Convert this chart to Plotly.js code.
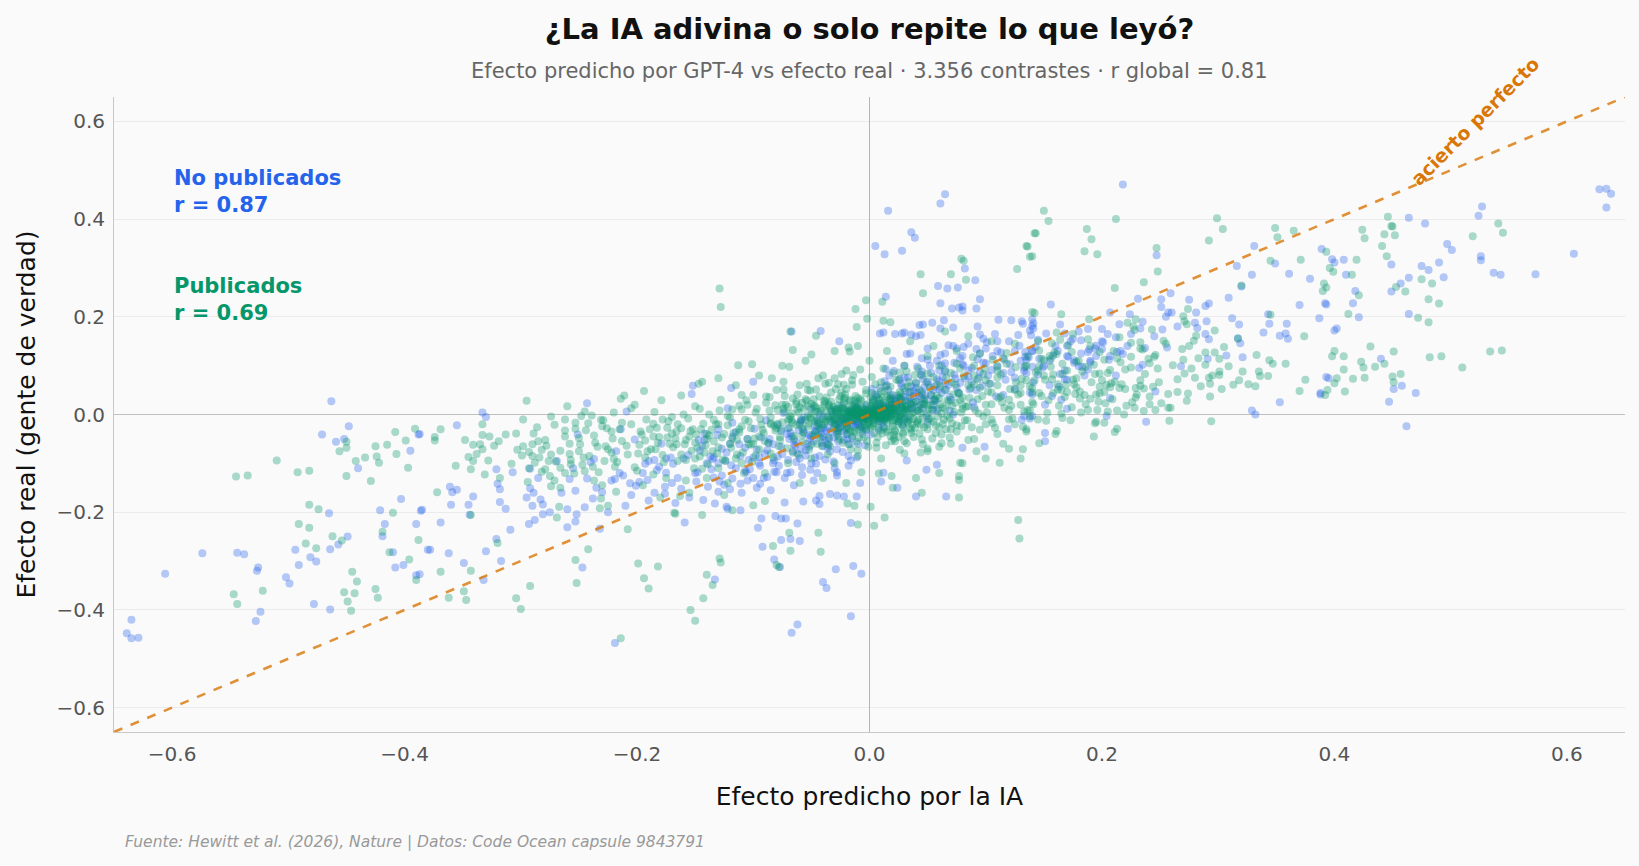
<!DOCTYPE html>
<html>
<head>
<meta charset="utf-8">
<script src="https://cdn.plot.ly/plotly-3.0.1.min.js"></script>
<style>html,body{margin:0;padding:0;background:#fafafa;}#chart{width:1639px;height:866px;}</style>
</head>
<body>
<div id="chart"></div>
<script>
// Axis ticks
const tickValues = [-0.6, -0.4, -0.2, 0.0, 0.2, 0.4, 0.6];
const perfectLine = [-0.65, 0.65];

// Publicados (green), [predicho, real] — outer points
const publicadosOuter = [
[-0.545,-0.127],[-0.535,-0.125],[-0.51,-0.094],[-0.492,-0.118],[-0.482,-0.115],[-0.482,-0.185],[-0.474,-0.194],[-0.491,-0.224],[-0.482,-0.232],[-0.485,-0.264],[-0.476,-0.274],[-0.462,-0.249],[-0.454,-0.258],[-0.45,-0.056],[-0.45,-0.068],[-0.456,-0.075],[-0.442,-0.095],[-0.434,-0.088],[-0.424,-0.086],[-0.422,-0.099],[-0.45,-0.126],[-0.429,-0.136],[-0.425,-0.065],[-0.415,-0.062],[-0.408,-0.036],[-0.399,-0.053],[-0.407,-0.081],[-0.397,-0.109],[-0.391,-0.029],[-0.374,-0.046],[-0.41,-0.201],[-0.419,-0.24],[-0.413,-0.282],[-0.396,-0.297],[-0.388,-0.257],[-0.39,-0.339],[-0.445,-0.322],[-0.441,-0.342],[-0.452,-0.364],[-0.449,-0.383],[-0.443,-0.366],[-0.446,-0.402],[-0.425,-0.357],[-0.423,-0.375],[-0.547,-0.368],[-0.544,-0.388],[-0.522,-0.361],
[-0.129,0.258],[-0.128,0.22],[-0.113,0.101],[-0.13,0.074],[-0.144,0.067],[-0.147,0.063],[-0.194,0.048],[-0.202,0.02],[-0.211,0.039],[-0.214,0.032],[-0.179,0.029],[-0.162,0.039],[-0.15,0.017],[-0.295,0.028],[-0.26,0.017],[-0.262,-0.01],[-0.253,-0.017],[-0.248,-0.003],[-0.244,-0.032],[-0.239,-0.002],[-0.231,-0.011],[-0.23,-0.024],[-0.22,0.004],[-0.222,-0.035],[-0.369,-0.03],[-0.374,-0.053],[-0.372,-0.159],[-0.369,-0.322],[-0.362,-0.375],[-0.349,-0.362],[-0.347,-0.38],[-0.343,-0.32],[-0.356,-0.105],[-0.345,-0.087],[-0.341,-0.095],[-0.341,-0.062],[-0.335,-0.061],[-0.333,-0.071],[-0.333,-0.042],[-0.327,-0.045],[-0.319,-0.055],[-0.331,-0.123],[-0.343,-0.206],[-0.32,-0.263],[-0.304,-0.039],[-0.299,-0.084],[-0.293,-0.077],[-0.29,-0.061],[-0.282,-0.072],[-0.288,-0.099],[-0.279,-0.112],[-0.274,-0.082],[-0.266,-0.109],[-0.274,-0.147],[-0.271,-0.135],[-0.269,-0.211],[-0.267,-0.189],[-0.292,-0.351],[-0.304,-0.376],[-0.3,-0.398],[-0.253,-0.298],[-0.252,-0.345],[-0.242,-0.276],[-0.257,-0.093],[-0.247,-0.103],[-0.245,-0.116],[-0.237,-0.135],[-0.231,-0.172],[-0.232,-0.192],[-0.225,-0.187],[-0.228,-0.095],[-0.22,-0.091],[-0.219,-0.107],[-0.218,-0.158],[-0.214,-0.458],[-0.208,-0.235],[-0.199,-0.305],[-0.194,-0.335],[-0.19,-0.356],[-0.182,-0.311],[-0.208,-0.082],[-0.199,-0.08],[-0.213,-0.054],[-0.193,-0.053],[-0.188,-0.071],[-0.186,-0.045],[-0.183,-0.027],[-0.174,-0.027],[-0.17,-0.039],[-0.167,-0.049],[-0.159,-0.061],[-0.152,-0.03],[-0.148,-0.068],[-0.144,-0.111],[-0.186,-0.123],[-0.18,-0.17],[-0.168,-0.201],[-0.163,-0.167],[-0.158,-0.135],[-0.154,-0.4],[-0.15,-0.422],[-0.143,-0.376],[-0.14,-0.328],[-0.135,-0.349],[-0.128,-0.303],[-0.167,-0.203],[-0.144,-0.206],
[-0.285,-0.055],[-0.276,-0.095],[-0.262,-0.12],[-0.258,-0.06],[-0.25,-0.075],[-0.236,-0.058],[-0.227,-0.065],[-0.215,-0.03],[-0.205,-0.02],[-0.197,-0.035],[-0.192,-0.01],[-0.185,0.005],[-0.178,-0.01],[-0.172,-0.06],[-0.165,-0.02],[-0.16,0.0],[-0.155,-0.045],[-0.15,-0.09],[-0.145,-0.03],[-0.14,-0.05],[-0.138,0.0],[-0.135,-0.075],[-0.132,-0.02],[-0.13,-0.11],[-0.128,0.03],[-0.125,-0.04],[-0.122,-0.14],[-0.12,-0.06],[-0.118,0.01],[-0.115,-0.09],[-0.112,-0.03],[-0.11,0.04],[-0.108,-0.12],[-0.105,-0.05],[-0.2,-0.115],[-0.195,-0.145],[-0.175,-0.13],[-0.165,-0.095],[-0.155,-0.16],[-0.14,-0.13],[-0.125,-0.165],
[-0.068,0.17],[-0.066,0.132],[-0.069,0.098],[-0.084,0.074],[-0.074,0.067],[-0.101,0.103],[-0.046,0.161],[-0.05,0.123],[-0.018,0.137],[-0.017,0.129],[0.011,0.231],[-0.012,0.216],[-0.003,0.234],[-0.002,0.196],[-0.011,0.179],[0.012,0.192],[0.018,0.189],[0.079,0.319],[0.081,0.315],[0.083,0.276],[0.07,0.287],[0.044,0.287],[0.046,0.248],[0.142,0.371],[0.135,0.345],[0.138,0.323],[0.127,0.298],[0.142,0.208],
[-0.129,-0.295],[-0.083,-0.269],[-0.08,-0.308],[-0.078,-0.312],[-0.069,-0.242],[-0.068,-0.279],[-0.044,-0.242],[-0.042,-0.281],[-0.01,-0.225],[0.004,-0.228],[0.013,-0.211],[0.001,-0.189],[-0.019,-0.182],[-0.013,-0.187],[-0.118,-0.196],[-0.1,-0.186],[-0.09,-0.177],[0.019,-0.126],[0.008,-0.121],[-0.007,-0.118],[0.045,-0.16],[0.077,-0.17],[0.077,-0.126],[0.077,-0.134],[0.078,-0.099],[0.112,-0.099],[0.128,-0.216],[0.129,-0.254],[0.05,-0.07],[0.06,-0.066],[0.062,-0.059],
[0.299,0.402],[0.304,0.38],[0.292,0.356],[0.32,0.264],[0.349,0.382],[0.351,0.363],[0.365,0.376],[0.345,0.315],[0.371,0.317],[0.393,0.333],[0.399,0.292],[0.393,0.26],[0.39,0.253],[0.345,0.204],[0.374,0.16],[0.358,0.104],[0.333,0.122],[0.344,0.111],[0.347,0.104],[0.335,0.088],[0.336,0.079],[0.343,0.079],[0.318,0.07],[0.326,0.062],[0.332,0.058],[0.303,0.052],[0.294,-0.014],[0.37,0.048],[0.375,0.071],[0.394,0.05],[0.402,0.074],[0.4,0.13],[0.274,0.216],[0.27,0.201],[0.273,0.185],[0.271,0.191],[0.279,0.151],[0.275,0.14],[0.283,0.115],[0.27,0.112],[0.289,0.102],[0.297,0.127],[0.301,0.114],[0.292,0.075],[0.295,0.08],[0.301,0.088],[0.293,0.063],[0.28,0.075],[0.271,0.084],[0.274,0.043],[0.265,0.046],[0.255,0.145],[0.246,0.122],[0.243,0.174],[0.24,0.114],[0.241,0.105],[0.248,0.094],[0.236,0.271],[0.248,0.293],[0.247,0.341],[0.212,0.4],[0.196,0.328],[0.191,0.359],[0.187,0.38],[0.185,0.334],[0.211,0.259],[0.15,0.417],[0.154,0.396],[0.143,0.371],[0.136,0.344],[0.14,0.324],[0.14,0.21],[0.165,0.205],[0.189,0.195],[0.222,0.188],[0.229,0.195],[0.227,0.18],[0.228,0.173],[0.215,0.158],[0.225,0.147],[0.216,0.107],[0.22,0.092],[0.225,0.118],[0.233,0.135],[0.235,0.133],[0.233,0.07],[0.233,0.059],[0.236,0.053],[0.244,0.057],[0.241,0.037],[0.229,0.035],[0.226,0.025],[0.23,0.041],[0.246,0.009],[0.251,0.023],[0.257,0.014],[0.259,0.014],[0.258,-0.013],[0.236,0.007],[0.228,0.014],
[0.22,0.052],[0.215,0.054],[0.211,0.067],[0.207,0.091],[0.208,0.064],[0.207,0.056],[0.204,0.061],[0.198,0.084],[0.198,0.057],[0.202,0.046],[0.195,0.041],[0.197,0.026],[0.203,0.023],[0.205,0.006],[0.213,0.008],[0.219,0.0],[0.213,-0.029],[0.211,-0.036],[0.202,-0.017],[0.194,-0.018],[0.193,-0.045],[0.188,0.009],[0.181,0.033],[0.177,0.042],[0.178,0.056],[0.175,0.071],[0.169,0.061],[0.174,0.015],[0.166,-0.007],[0.165,0.002],[0.161,-0.034],[0.162,0.051],[0.157,0.072],[0.156,0.114],[0.159,0.127],[0.157,0.146],[0.161,0.168],[0.164,0.153],[0.148,0.114],[0.146,0.099],[0.14,0.054],[0.138,-0.004],[0.136,0.009],[0.132,-0.025],[0.135,-0.035],[0.146,-0.059],[0.132,-0.071],[0.152,-0.013],
[0.446,0.405],[0.449,0.386],[0.45,0.385],[0.424,0.378],[0.426,0.361],[0.443,0.369],[0.452,0.367],[0.441,0.345],[0.445,0.324],[0.419,0.317],[0.396,0.3],[0.391,0.268],[0.415,0.286],[0.421,0.244],[0.412,0.206],[0.453,0.261],[0.461,0.252],[0.475,0.277],[0.484,0.268],[0.481,0.236],[0.49,0.227],[0.472,0.198],[0.481,0.189],[0.519,0.365],[0.541,0.391],[0.545,0.372],[0.534,0.129],[0.544,0.131],[0.51,0.096],[0.492,0.119],[0.482,0.117],[0.431,0.139],[0.451,0.129],[0.443,0.104],[0.435,0.098],[0.423,0.108],[0.425,0.096],[0.408,0.119],[0.398,0.119],[0.408,0.092],[0.416,0.073],[0.426,0.075],[0.4,0.064],[0.409,0.047],[0.392,0.04],[0.45,0.078],[0.451,0.066],[0.457,0.083]
];

// Publicados (green) — inner cloud
const publicadosInner = [
[0.1,0.02],[0.105,0.045],[0.11,0.06],[0.12,0.03],[0.125,0.05],[0.13,0.02],[0.135,0.07],[0.14,0.045],[0.1,-0.02],[0.12,-0.01],[0.135,-0.03],[0.09,0.08],[0.11,0.1],[0.145,0.09],[0.08,0.02],[0.075,-0.035],[0.092,-0.075],[0.105,-0.01],
[0.13,0.06],[0.125,-0.02],[0.14,0.025],[0.15,0.08],[0.11,0.09],[0.1,0.07],[0.09,0.1],[0.085,0.06],[0.07,0.085],[0.06,0.1],[0.05,0.12],[0.03,0.1],[0.02,0.085],[0.0,0.11],[-0.02,0.09],[-0.04,0.08],[-0.06,0.06],[-0.08,0.05],[-0.1,0.04],[-0.11,0.01],[-0.13,-0.02],[-0.14,-0.04],[-0.1,-0.06],[-0.085,-0.08],[-0.07,-0.1],[-0.05,-0.09],[-0.03,-0.1],[-0.01,-0.085],[0.01,-0.09],[0.03,-0.08],[0.05,-0.075],[0.07,-0.06],[0.09,-0.05],[0.11,-0.04],[0.12,-0.07],[0.1,-0.09],[0.08,-0.1],[0.06,-0.12],[0.04,-0.13],[0.02,-0.15],[-0.02,-0.14],[-0.04,-0.13],[-0.06,-0.14],[-0.09,-0.12],[-0.11,-0.1],[-0.115,0.06],[-0.095,0.08],[-0.075,0.1],[-0.055,0.11],[-0.03,0.13],[-0.01,0.14],[0.015,0.13],[0.035,0.15],[0.055,0.14],[0.075,0.13],[0.095,0.125],[0.115,0.115],[0.135,0.1],[0.155,0.12],[0.165,0.05],[0.145,-0.01],[0.16,-0.04],[0.17,0.09],[0.18,0.11],[0.185,0.04],[0.19,0.14],[0.175,0.165],[0.2,0.07],[0.21,0.13],[0.195,-0.015],[0.105,0.15],[0.085,0.16],[0.065,0.17],[0.125,0.145],[0.145,0.15],[0.115,-0.06],[0.13,-0.09],[-0.095,-0.045],[-0.085,-0.02],[-0.075,0.02],[-0.065,-0.05],[-0.045,-0.06],[-0.035,0.065],[-0.015,0.07],[0.025,0.07],[0.045,0.08],[0.065,0.05],[0.08,0.035],[0.095,0.055],[-0.105,0.02],
[-0.198,-0.062],[-0.193,-0.088],[-0.189,-0.03],[-0.184,-0.071],[-0.181,-0.046],[-0.177,-0.098],[-0.173,-0.014],[-0.169,-0.067],[-0.166,-0.035],[-0.162,-0.082],[-0.158,-0.052],[-0.156,-0.008],[-0.153,-0.074],[-0.151,-0.11],
[-0.149,-0.041],[-0.146,-0.086],[-0.143,-0.019],[-0.141,-0.063],[-0.139,-0.102],[-0.136,-0.031],[-0.134,-0.055],[-0.131,-0.08],[-0.129,0.008],[-0.127,-0.047],[-0.124,-0.095],[-0.122,-0.022],[-0.119,-0.068],[-0.117,-0.038],[-0.114,-0.052],[-0.112,0.018],[-0.109,-0.078],[-0.107,-0.011],[-0.104,-0.061],[-0.102,-0.028],[-0.101,-0.097],
[-0.099,-0.049],[-0.097,0.012],[-0.095,-0.071],[-0.093,-0.021],[-0.091,-0.038],[-0.089,0.024],[-0.087,-0.059],[-0.085,-0.006],[-0.083,-0.088],[-0.081,-0.033],[-0.079,0.009],[-0.077,-0.052],[-0.075,-0.016],[-0.073,0.038],[-0.071,-0.069],[-0.069,-0.027],[-0.067,0.002],[-0.065,-0.044],[-0.063,0.021],[-0.061,-0.083],[-0.059,-0.01],[-0.057,-0.057],[-0.055,0.031],[-0.053,-0.025],[-0.051,0.049],[-0.052,-0.072],
[-0.049,-0.041],[-0.047,0.018],[-0.045,-0.009],[-0.043,0.037],[-0.041,-0.064],[-0.039,-0.02],[-0.037,0.006],[-0.035,-0.047],[-0.033,0.026],[-0.031,-0.011],[-0.029,0.052],[-0.027,-0.037],[-0.025,0.013],[-0.023,-0.058],[-0.021,0.034],[-0.019,-0.025],[-0.017,0.004],[-0.015,0.061],[-0.013,-0.034],[-0.011,0.016],[-0.009,-0.047],[-0.007,0.028],[-0.005,-0.016],[-0.003,0.043],[-0.001,-0.066],[-0.044,0.074],[-0.024,0.083],[-0.008,0.092],[-0.036,-0.082],[-0.016,-0.071],
[0.001,0.036],[0.003,-0.024],[0.005,0.062],[0.007,-0.046],[0.009,0.022],[0.011,-0.011],[0.013,0.047],[0.015,-0.036],[0.017,0.031],[0.019,-0.055],[0.021,0.008],[0.023,0.071],[0.025,-0.019],[0.027,0.042],[0.029,-0.04],[0.031,0.017],[0.033,0.058],[0.035,-0.028],[0.037,0.003],[0.039,0.081],[0.041,-0.014],[0.043,0.05],[0.045,-0.051],[0.047,0.021],[0.049,0.066],[0.012,0.094],[0.032,0.088],[0.006,-0.068],[0.026,-0.072],[0.044,-0.078],
[0.051,-0.009],[0.053,0.04],[0.055,0.077],[0.057,-0.038],[0.059,0.012],[0.061,0.058],[0.063,-0.019],[0.065,0.091],[0.067,0.029],[0.069,-0.047],[0.071,0.066],[0.073,0.005],[0.075,0.104],[0.077,0.043],[0.079,-0.024],[0.081,0.079],[0.083,0.016],[0.085,-0.052],[0.087,0.054],[0.089,0.117],[0.091,0.009],[0.093,0.072],[0.095,-0.031],[0.097,0.038],[0.099,0.094],
[0.101,0.004],[0.103,0.063],[0.106,0.112],[0.108,-0.027],[0.111,0.034],[0.113,0.082],[0.116,0.014],[0.118,0.126],[0.121,0.052],[0.123,-0.008],[0.126,0.097],[0.128,0.041],[0.131,0.073],[0.133,0.006],[0.136,0.119],[0.138,0.058],[0.141,0.021],[0.143,0.086],[0.146,0.131],[0.148,0.038],
[0.151,0.071],[0.153,0.003],[0.156,0.098],[0.158,0.044],[0.161,0.124],[0.163,0.018],[0.166,0.083],[0.168,0.036],[0.171,0.142],[0.173,-0.012],[0.176,0.062],[0.178,0.108],[0.181,0.047],[0.183,0.088],[0.186,0.021],[0.188,0.154],[0.191,0.066],[0.193,0.102],[0.196,0.009],[0.198,0.128],
[-0.298,-0.065],[-0.293,-0.11],[-0.289,-0.039],[-0.284,-0.088],[-0.279,-0.052],[-0.275,-0.126],[-0.271,-0.021],[-0.266,-0.074],[-0.262,-0.045],[-0.257,-0.102],[-0.253,-0.029],[-0.249,-0.061],[-0.245,0.006],[-0.241,-0.085],[-0.237,-0.043],[-0.233,-0.118],[-0.229,-0.012],[-0.225,-0.071],[-0.221,-0.049],[-0.217,-0.097],[-0.213,-0.017],[-0.209,-0.064],[-0.205,0.013],[-0.202,-0.108],
[-0.196,-0.041],[-0.191,-0.075],[-0.186,-0.019],[-0.182,-0.058],[-0.178,-0.083],[-0.174,-0.047],[-0.17,-0.005],[-0.166,-0.061],[-0.162,-0.028],[-0.158,-0.093],[-0.154,-0.034],[-0.15,-0.058],[-0.146,0.012],[-0.142,-0.078],[-0.138,-0.043],[-0.134,-0.011],[-0.13,-0.067],[-0.126,-0.092],[-0.122,-0.003],[-0.118,-0.049],[-0.114,-0.082],[-0.11,-0.024],[-0.106,0.029],[-0.102,-0.062],[-0.098,-0.084],[-0.094,-0.009],[-0.09,-0.054],[-0.086,0.036],[-0.082,-0.023],[-0.078,-0.065],[-0.074,0.051],[-0.07,-0.012],[-0.066,-0.078],[-0.062,0.041],[-0.058,-0.043],[-0.054,0.063],[-0.05,-0.062],[-0.046,0.051],[-0.042,-0.047],[-0.038,0.063],[-0.034,-0.065],[-0.03,0.074],[-0.026,-0.051],[-0.022,0.061],[-0.018,-0.061],[-0.014,0.081],[-0.01,-0.073],[-0.006,0.067],[-0.002,-0.054],[0.002,0.077],[0.006,-0.058],[0.01,0.066],[0.014,-0.063],[0.018,0.057],[0.022,-0.034],[0.026,0.086],[0.03,-0.055],[0.034,0.067],[0.038,-0.046],[0.042,0.094],[0.046,-0.061],[0.05,0.084],[0.054,-0.049],[0.058,0.062],[0.062,-0.041],[0.066,0.076],[0.07,-0.03],[0.074,0.061],[0.078,0.094],[0.082,-0.012],[0.086,0.034],[0.09,0.062],[0.094,0.002],[0.098,0.083],[0.102,0.047],[0.106,-0.018],[0.11,0.076],[0.114,0.025],[0.118,0.104],[0.122,0.018],[0.126,0.066],[0.13,0.044],[0.134,0.099],[0.138,0.008],[0.142,0.07],[0.146,0.044],[0.15,0.111],[0.154,0.029],[0.158,0.082],[0.162,0.062],[0.166,0.104],[0.17,0.046],[0.174,0.128],[0.178,0.074],[0.182,0.004],[0.186,0.097],[0.19,0.032],[0.194,0.083],[0.198,0.043],[0.202,0.112],
[0.205,0.085],[0.209,0.031],[0.213,0.115],[0.217,0.062],[0.221,0.018],[0.225,0.096],[0.229,0.054],[0.233,0.148],[0.237,0.083],[0.241,0.021],[0.245,0.118],[0.249,0.066],[0.253,0.151],[0.257,0.042],[0.261,0.101],[0.265,0.072],[0.269,0.134],[0.273,0.028],[0.277,0.094],[0.281,0.161],[0.285,0.058],[0.289,0.127],[0.293,0.037],[0.297,0.172],[0.301,0.081],[0.305,0.138],[0.309,0.099],[0.313,0.061],[0.317,0.155],[0.321,0.088],
[-0.348,-0.052],[-0.343,-0.112],[-0.338,-0.081],[-0.333,-0.02],[-0.328,-0.094],[-0.323,-0.064],[-0.318,-0.13],[-0.313,-0.041],[-0.308,-0.101],[-0.303,-0.072],[-0.298,-0.01],[-0.294,-0.138],[-0.29,-0.085],[-0.286,-0.026],[-0.282,-0.117],[-0.278,-0.064],[-0.274,-0.004],[-0.27,-0.096],[-0.266,-0.15],[-0.262,-0.033],[-0.258,-0.081],[-0.254,-0.121],[-0.25,-0.048],[-0.246,-0.088],[-0.242,-0.018],[-0.238,-0.107],[-0.234,-0.066],[-0.23,-0.145],[-0.226,-0.028],[-0.222,-0.078]
];

// Publicados (green) — dense core
const publicadosCore = [
[0.002,0.004],[-0.004,-0.003],[0.008,0.011],[-0.011,0.006],[0.013,-0.008],[-0.006,0.015],[0.017,0.002],[-0.015,-0.012],[0.004,-0.018],[0.021,0.014],[-0.019,0.003],[0.009,-0.004],[-0.002,0.021],[0.026,-0.005],[-0.024,-0.006],[0.012,0.024],[-0.009,-0.022],[0.031,0.009],[-0.028,0.012],[0.006,0.007],[-0.001,-0.009],[0.015,-0.016],[-0.013,0.019],[0.019,0.019],[-0.021,-0.017],[0.034,-0.012],[-0.032,-0.001],[0.003,0.029],[0.001,-0.026],[0.023,0.027],[-0.017,0.027],[0.028,-0.021],[-0.035,0.018],[0.038,0.004],[-0.038,-0.015],[0.011,0.035],[-0.006,-0.033],[0.042,0.016],[-0.042,0.007],[0.046,-0.006],[-0.045,-0.024],[0.016,-0.031],[-0.026,0.031],[0.033,0.031],[-0.031,-0.029],[0.051,0.011],[-0.05,0.002],[0.007,0.041],[0.004,-0.038],[0.055,-0.015],[-0.055,-0.011],[0.024,0.039],[-0.012,0.038],[0.039,-0.027],[-0.039,0.028],[0.061,0.021],[-0.06,0.015],[0.062,0.002],[-0.063,-0.021],[0.018,-0.044],[-0.019,-0.04],[0.047,0.033],[-0.048,0.031],[0.069,-0.008],[-0.068,-0.004],[0.01,0.048],[-0.003,0.05],[0.029,-0.037],[0.074,0.024],[-0.074,0.012],[0.058,0.038],[-0.057,-0.036],[0.079,0.004],[-0.079,-0.019],[0.035,0.046],[-0.033,0.045],[0.043,-0.039],[-0.044,-0.043],[0.085,0.017],[-0.086,0.008],[0.066,-0.03],[-0.066,0.033],[0.093,0.031],[-0.092,-0.031],[0.014,0.058],[0.022,-0.055],[-0.011,-0.056],[0.098,-0.004],[-0.098,0.004],[0.076,0.045],[-0.077,-0.046],[0.052,0.055],[-0.053,0.05],[0.105,0.021],[-0.104,-0.014],[0.088,-0.026],[-0.089,0.037],[0.113,0.037],[-0.112,-0.037],[0.04,0.064],[-0.027,0.062],[0.032,-0.059],[-0.036,-0.061],[0.12,0.009],[-0.12,-0.006],[0.005,0.001],[-0.007,0.002],[0.011,-0.002],[0.0,-0.005],[0.014,0.006],[-0.012,-0.004],[0.007,-0.011],[-0.003,0.01],[0.019,-0.001],[-0.016,0.008],[0.003,0.015],[0.024,0.006],[-0.022,0.009],[0.008,-0.015],[-0.008,0.003],[0.016,0.011],[-0.005,-0.014],[0.027,0.015],[-0.027,-0.012],
[0.001,0.0],[-0.002,0.006],[0.006,-0.007],[-0.009,-0.001],[0.012,0.003],[0.004,0.012],[-0.006,-0.01],[0.017,-0.006],[-0.014,0.013],[0.009,0.017],[-0.018,-0.007],[0.022,-0.011],[0.002,-0.021],[-0.01,0.024],[0.029,0.003],[-0.029,0.005],[0.014,0.021],[-0.023,-0.02],[0.033,-0.017],[-0.034,0.012],[0.037,0.019],[-0.04,-0.008],[0.02,-0.024],[-0.016,0.03],[0.044,0.003],[-0.046,0.014],[0.008,0.033],[-0.003,-0.03],[0.028,0.025],[-0.026,-0.028],[0.05,-0.02],[-0.052,-0.019],[0.036,-0.031],[-0.037,0.035],[0.055,0.027],[-0.058,0.024],[0.059,-0.004],[-0.061,0.004],[0.018,0.04],[-0.015,-0.045],[0.065,0.012],[-0.067,-0.012],[0.045,0.042],[-0.047,-0.04],[0.071,-0.018],[-0.072,0.02],[0.025,-0.046],[-0.024,0.045],[0.078,0.03],[-0.08,-0.028],
[0.0,0.008],[0.004,-0.002],[-0.003,0.001],[0.007,0.004],[-0.006,-0.006],[0.01,0.009],[-0.01,0.011],[0.013,-0.012],[-0.012,-0.009],[0.016,0.017],[-0.015,0.003],[0.019,-0.004],[-0.018,0.018],[0.022,0.009],[-0.021,-0.014],[0.025,-0.014],[-0.024,0.001],[0.028,0.02],[-0.027,0.019],[0.031,-0.007],[-0.03,-0.023],[0.034,0.012],[-0.033,0.008],[0.037,-0.021],[-0.036,-0.004],[0.04,0.027],[-0.039,0.021],[0.003,0.024],[-0.001,-0.019],[0.008,-0.027],[-0.008,0.031],[0.018,0.028],[-0.02,-0.031],[0.026,0.035],[-0.025,0.038],[0.011,-0.039],[-0.013,-0.037],[0.036,-0.038],[0.042,-0.011],[-0.043,-0.028],[0.046,0.022],[-0.048,0.017],[0.05,-0.03],[-0.051,-0.006],[0.054,0.009],[-0.054,0.028],[0.057,-0.022],[-0.058,-0.027],[0.06,0.034],[-0.062,0.01],[0.002,0.044],[-0.005,-0.047],[0.021,-0.049],[-0.02,0.052],[0.03,0.054],[0.064,-0.011],[-0.066,-0.017],[0.068,0.026],[-0.07,0.016],[0.072,0.041],
[0.003,0.006],[-0.005,0.002],[0.009,-0.006],[-0.008,-0.008],[0.012,0.013],[-0.011,0.014],[0.015,-0.01],[-0.014,-0.006],[0.018,0.008],[-0.017,0.011],[0.02,-0.018],[-0.019,-0.016],[0.023,0.021],[-0.022,0.024],[0.026,-0.002],[-0.026,0.004],[0.029,-0.026],[-0.029,-0.02],[0.032,0.016],[-0.031,0.016],[0.035,-0.004],[-0.034,-0.01],[0.038,0.024],[-0.038,0.026],[0.041,-0.018],[-0.041,-0.022],[0.044,0.011],[-0.044,0.005],[0.047,-0.026],[-0.047,-0.014],[0.05,0.019],[-0.05,0.022],[0.053,-0.008],[-0.053,-0.003],[0.056,0.032],[-0.056,0.012],[0.06,-0.026],[-0.06,-0.021],[0.063,0.015],[-0.063,0.026],[0.006,0.019],[-0.004,-0.022],[0.01,-0.032],[-0.01,0.034],[0.015,0.037],[-0.016,-0.034],[0.021,-0.041],[-0.021,0.041],[0.026,0.046],[-0.027,-0.045],[0.004,0.002],[-0.001,0.003],[0.007,-0.001],[-0.004,-0.007],[0.011,0.007],[-0.009,0.007],[0.014,-0.004],[-0.013,0.0],[0.017,0.013],[-0.016,-0.002],[0.001,0.013],[0.0,-0.013],[0.005,-0.009],[-0.007,0.012],[0.02,0.003],[-0.02,-0.005],[0.024,-0.008],[-0.023,0.012],[0.03,0.01],[-0.03,-0.008],[0.067,-0.003],[-0.069,-0.009],[0.071,0.018],[-0.073,0.005],[0.075,-0.022],[-0.076,-0.03],[0.08,0.012],[-0.081,0.019],[0.084,-0.012],[-0.085,-0.018],
[0.002,-0.002],[-0.002,-0.001],[0.005,0.005],[-0.005,0.008],[0.008,-0.003],[-0.009,-0.004],[0.011,0.011],[-0.012,0.009],[0.014,-0.007],[-0.014,-0.011],[0.017,0.006],[-0.017,0.005],[0.02,-0.012],[-0.02,-0.009],[0.023,0.016],[-0.023,0.015],[0.026,-0.01],[-0.026,-0.013],[0.029,0.012],[-0.029,0.009],[0.032,-0.015],[-0.032,-0.016],[0.035,0.022],[-0.035,0.021],[0.038,-0.009],[-0.038,-0.011],[0.041,0.008],[-0.041,0.013],[0.044,-0.021],[-0.044,-0.016],[0.047,0.026],[-0.047,0.006],[0.05,0.002],[-0.05,-0.01],[0.053,0.019],[-0.053,0.017],[0.001,0.018],[-0.001,-0.016],[0.004,0.027],[-0.004,-0.027],[0.009,0.03],[-0.009,-0.031],[0.013,-0.027],[-0.013,0.028],[0.018,0.033],[-0.018,-0.029],[0.022,-0.033],[-0.022,0.031],[0.027,0.03],[-0.027,-0.034],[0.006,0.003],[-0.006,0.0],[0.003,-0.006],[-0.003,0.004],[0.01,0.0],[-0.01,-0.002],[0.013,0.004],[-0.011,0.002],[0.016,-0.002],[-0.015,0.006],[0.019,0.01],[-0.019,-0.001],[0.022,0.0],[-0.022,0.004],[0.025,0.008],[-0.025,-0.005],[0.028,-0.005],[-0.028,0.002],[0.031,0.004],[-0.031,-0.004]
];

// No publicados (blue), [predicho, real] — outer points
const noPublicadosOuter = [
[-0.463,0.027],[-0.448,-0.024],[-0.471,-0.041],[-0.459,-0.056],[-0.452,-0.05],[-0.395,-0.074],[-0.388,-0.041],[-0.44,-0.11],[-0.403,-0.173],[-0.421,-0.196],[-0.386,-0.197],[-0.465,-0.202],[-0.417,-0.224],[-0.419,-0.249],[-0.39,-0.224],[-0.449,-0.25],[-0.457,-0.266],[-0.464,-0.276],[-0.494,-0.277],[-0.481,-0.292],[-0.476,-0.301],[-0.491,-0.308],[-0.41,-0.282],[-0.401,-0.308],[-0.408,-0.313],[-0.39,-0.329],[-0.38,-0.277],[-0.574,-0.284],[-0.544,-0.283],[-0.538,-0.286],[-0.526,-0.313],[-0.527,-0.32],[-0.606,-0.326],[-0.502,-0.333],[-0.499,-0.346],[-0.478,-0.388],[-0.464,-0.399],[-0.524,-0.404],[-0.528,-0.423],[-0.635,-0.42],[-0.639,-0.448],[-0.635,-0.458],[-0.629,-0.457],
[-0.333,0.004],[-0.33,-0.005],[-0.355,-0.022],[-0.387,-0.04],[-0.361,-0.148],[-0.359,-0.159],[-0.355,-0.154],[-0.36,-0.185],[-0.385,-0.195],[-0.369,-0.221],[-0.345,-0.185],[-0.341,-0.168],[-0.344,-0.205],[-0.378,-0.277],[-0.362,-0.284],[-0.349,-0.304],[-0.387,-0.327],[-0.332,-0.339],[-0.33,-0.28],[-0.321,-0.112],[-0.32,-0.142],[-0.318,-0.153],[-0.318,-0.179],[-0.313,-0.193],[-0.321,-0.255],[-0.317,-0.3],[-0.309,-0.236],[-0.307,-0.118],[-0.292,-0.111],[-0.292,-0.151],[-0.289,-0.16],[-0.29,-0.187],[-0.293,-0.224],[-0.288,-0.216],[-0.281,-0.184],[-0.283,-0.174],[-0.281,-0.204],[-0.269,-0.095],[-0.26,-0.231],[-0.26,-0.194],[-0.253,-0.219],[-0.252,-0.204],[-0.253,-0.156],[-0.247,-0.313],[-0.258,-0.132],[-0.251,-0.041],[-0.243,0.023],[-0.24,-0.097],[-0.237,-0.091],[-0.243,-0.131],[-0.238,-0.172],[-0.232,-0.234],[-0.23,-0.159],[-0.219,-0.468],[-0.222,-0.135],[-0.219,-0.132],[-0.218,-0.075],[-0.214,-0.03],[-0.209,0.006],[-0.21,-0.187],[-0.212,-0.125],[-0.206,-0.141],[-0.201,-0.146],[-0.202,-0.051],[-0.191,-0.134],[-0.193,-0.101],[-0.19,-0.095],[-0.185,-0.093],[-0.181,-0.107],[-0.179,-0.06],[-0.176,-0.148],[-0.175,-0.119],[-0.171,-0.088],[-0.167,-0.181],[-0.159,-0.221],[-0.152,0.059],[-0.153,0.042],[-0.147,-0.052],[-0.146,-0.074],[-0.142,-0.052],[-0.142,-0.039],[-0.137,-0.086],[-0.134,-0.129],[-0.133,-0.182],[-0.134,-0.088],[-0.125,-0.144],[-0.123,-0.189],[-0.119,0.054],[-0.118,-0.017],[-0.122,0.013],[-0.133,-0.338],
[0.065,0.451],[0.061,0.432],[0.016,0.417],[0.036,0.373],[0.039,0.362],[0.005,0.345],[0.013,0.328],[0.028,0.335],[0.082,0.299],[0.059,0.263],[0.067,0.258],[0.076,0.26],[0.091,0.275],[0.061,0.228],[0.071,0.217],[0.077,0.219],[0.08,0.213],[0.08,0.221],[0.092,0.217],[0.095,0.236],[0.014,0.241],[-0.067,0.17],[-0.026,0.15],[-0.042,0.171],[-0.1,0.067],[0.009,0.166],[0.012,0.168],[0.022,0.165],[0.028,0.166],[0.03,0.168],[0.036,0.164],[0.04,0.16],[0.044,0.163],[0.043,0.183],[0.046,0.184],[0.054,0.188],[0.061,0.176],[0.064,0.193],[0.072,0.178],[0.093,0.18],[0.095,0.164],[0.111,0.194],[0.122,0.193],[0.132,0.186],[0.141,0.187],[0.141,0.176],[0.139,0.162],[0.143,0.138],[0.135,0.112],
[-0.092,-0.271],[-0.082,-0.297],[-0.077,-0.312],[-0.096,-0.232],[-0.093,-0.213],[-0.081,-0.208],[-0.076,-0.213],[-0.072,-0.213],[-0.062,-0.223],[-0.068,-0.255],[-0.06,-0.259],[-0.076,-0.257],[-0.029,-0.317],[-0.04,-0.343],[-0.037,-0.355],[-0.014,-0.31],[-0.007,-0.326],[-0.016,-0.222],[0.024,-0.15],[0.012,-0.119],[0.01,-0.137],[0.032,-0.094],[0.04,-0.168],[0.066,-0.168],[0.049,-0.113],[0.058,-0.103],[0.08,-0.068],[0.099,-0.066],[0.119,-0.029],[-0.129,-0.137],[-0.122,-0.193],[-0.111,-0.196],[-0.12,-0.153],[-0.073,-0.18],[-0.057,-0.178],[-0.046,-0.176],[-0.043,-0.183],[-0.043,-0.167],[-0.034,-0.163],[-0.028,-0.166],[-0.022,-0.168],[-0.011,-0.168],[-0.062,-0.43],[-0.067,-0.447],[-0.016,-0.413],
[0.218,0.471],[0.247,0.326],[0.231,0.237],[0.251,0.236],[0.259,0.248],[0.251,0.22],[0.257,0.209],[0.26,0.209],[0.252,0.174],[0.256,0.137],[0.233,0.176],[0.225,0.165],[0.237,0.136],[0.235,0.102],[0.232,0.095],[0.246,0.047],[0.238,-0.015],[0.212,0.08],[0.204,-0.003],[0.207,0.034],[0.216,0.13],[0.213,0.128],[0.207,0.12],[0.2,0.134],[0.195,0.141],[0.201,0.148],[0.207,0.209],[0.19,0.107],[0.189,0.133],[0.188,0.128],[0.183,0.098],[0.18,0.099],[0.176,0.111],[0.171,0.118],[0.173,0.15],[0.168,0.166],[0.164,0.184],[0.156,0.225],[0.17,0.071],[0.168,0.072],[0.17,0.012],[0.163,0.057],[0.157,0.038],[0.151,0.02],[0.151,-0.038],[0.151,-0.055],[0.14,0.195],[0.138,0.172],[0.14,0.181],[0.131,0.191],[0.14,0.13],[0.133,0.096],[0.134,0.118],[0.145,0.082],[0.14,0.041],[0.138,0.045],[0.14,-0.003],[0.138,-0.008],[0.133,-0.003],[0.131,-0.011],
[0.282,0.177],[0.281,0.209],[0.28,0.188],[0.29,0.191],[0.289,0.165],[0.292,0.154],[0.289,0.222],[0.292,0.227],[0.291,0.114],[0.268,0.099],[0.307,0.121],[0.309,0.239],[0.312,0.197],[0.316,0.304],[0.318,0.184],[0.317,0.156],[0.319,0.146],[0.321,0.117],[0.32,0.262],[0.329,0.286],[0.331,0.345],[0.329,0.008],[0.332,0.0],[0.339,0.168],[0.343,0.205],[0.344,0.186],[0.349,0.309],[0.353,0.161],[0.358,0.166],[0.36,0.155],[0.359,0.186],[0.361,0.288],[0.353,0.025],[0.37,0.224],[0.379,0.278],[0.387,0.197],[0.389,0.339],[0.393,0.225],[0.395,0.074],[0.388,0.041],[0.398,0.318],[0.4,0.172],
[0.628,0.461],[0.634,0.462],[0.638,0.452],[0.634,0.424],[0.606,0.329],[0.573,0.287],[0.543,0.286],[0.537,0.29],[0.527,0.426],[0.524,0.407],[0.526,0.324],[0.526,0.316],[0.501,0.337],[0.497,0.349],[0.494,0.281],[0.49,0.311],[0.481,0.296],[0.475,0.304],[0.478,0.391],[0.464,0.403],[0.464,0.28],[0.457,0.268],[0.449,0.307],[0.449,0.252],[0.464,0.206],[0.44,0.114],[0.458,0.059],[0.451,0.052],[0.47,0.044],[0.447,0.026],[0.462,-0.024],[0.421,0.199],[0.416,0.228],[0.418,0.253],[0.41,0.286],[0.408,0.317],[0.4,0.311],[0.402,0.176],[0.392,0.228],[0.393,0.077],[0.388,0.044],
[0.155,0.11],[0.162,0.13],[0.168,0.09],[0.175,0.155],[0.182,0.125],[0.188,0.175],[0.195,0.12],[0.205,0.165],[0.215,0.185],[0.222,0.14],[0.235,0.19],[0.245,0.16],[0.255,0.2],[0.265,0.18],[0.275,0.235],
[-0.295,-0.17],[-0.285,-0.13],[-0.275,-0.2],[-0.265,-0.16],[-0.255,-0.11],[-0.245,-0.19],[-0.235,-0.15],[-0.225,-0.2],[-0.215,-0.12],[-0.205,-0.165],[-0.195,-0.12],[-0.185,-0.16],[-0.175,-0.09],[-0.165,-0.13],[-0.155,-0.17]
];

// No publicados (blue) — inner cloud and core
const noPublicadosInner = [
[-0.115,-0.11],[-0.105,-0.135],[-0.095,-0.1],[-0.088,-0.128],[-0.078,-0.105],[-0.068,-0.118],[-0.058,-0.108],[-0.048,-0.135],[-0.038,-0.092],[-0.028,-0.125],[-0.018,-0.105],[-0.008,-0.14],[-0.12,-0.06],[-0.105,-0.05],[-0.13,-0.03],[-0.14,-0.1],[-0.15,-0.12],[-0.16,-0.09],[-0.17,-0.14],
[0.02,0.11],[0.035,0.125],[0.05,0.135],[0.065,0.105],[0.078,0.115],[0.088,0.095],[0.1,0.105],[0.045,0.088],[0.058,0.11],[0.03,0.075],[0.015,0.06],[0.072,0.14],[0.095,0.125],[0.11,0.13],[0.125,0.13],[0.115,0.085],[0.135,0.085],
[-0.148,-0.118],[-0.144,-0.064],[-0.139,-0.148],[-0.135,-0.091],[-0.131,-0.042],[-0.127,-0.125],[-0.123,-0.078],[-0.119,-0.104],[-0.115,-0.036],[-0.111,-0.142],[-0.107,-0.068],[-0.103,-0.112],[-0.099,-0.029],[-0.095,-0.087],[-0.091,-0.13],[-0.087,-0.058],[-0.083,-0.1],[-0.079,-0.021],[-0.075,-0.081],[-0.071,-0.12],[-0.067,-0.045],[-0.063,-0.097],[-0.059,-0.013],[-0.055,-0.073],[-0.051,-0.113],[-0.047,-0.034],[-0.043,-0.085],[-0.039,-0.004],[-0.035,-0.062],[-0.031,-0.096],[-0.027,-0.019],[-0.023,-0.077],[-0.019,0.008],[-0.015,-0.048],[-0.011,-0.088],[-0.007,-0.026],[-0.003,0.019],[0.001,-0.041],[0.005,0.041],[0.009,-0.014],[0.013,0.068],[0.017,0.012],[0.021,0.089],[0.025,0.034],[0.029,-0.022],[0.033,0.076],[0.037,0.012],[0.041,0.098],[0.045,0.047],[0.049,-0.003],[0.053,0.085],[0.057,0.028],[0.061,0.122],[0.065,0.064],[0.069,0.008],[0.073,0.106],[0.077,0.044],[0.081,0.138],[0.085,0.078],[0.089,0.025],[0.093,0.113],[0.097,0.059],[0.101,0.148],[0.105,0.091],[0.109,0.037],[0.113,0.127],[0.117,0.071],[0.121,0.103],[0.125,0.052],[0.129,0.141],[0.133,0.089],[0.137,0.117],[0.141,0.066],[0.145,0.153],[0.149,0.096],
[0.0,0.002],[0.006,0.009],[-0.007,-0.006],[0.013,0.01],[-0.012,-0.014],[0.019,0.02],[-0.018,-0.013],[0.024,0.012],[-0.025,-0.026],[0.031,0.028],[-0.03,-0.02],[0.036,0.021],[-0.037,-0.034],[0.043,0.038],[-0.042,-0.03],[0.049,0.03],[-0.05,-0.045],[0.055,0.05],[-0.056,-0.039],[0.062,0.044],[-0.063,-0.056],[0.068,0.061],[-0.069,-0.05],[0.075,0.055],[-0.076,-0.066],[0.082,0.074],[-0.083,-0.061],[0.088,0.066],[-0.09,-0.08],[0.095,0.087],[-0.097,-0.072],[0.102,0.08],[-0.104,-0.093],[0.11,0.098],[-0.111,-0.085],[0.004,-0.012],[-0.005,0.011],[0.015,-0.003],[-0.016,0.004],[0.027,0.0],[-0.026,-0.002],[0.034,0.045],[-0.035,-0.05],[0.046,0.013],[-0.045,-0.012],[0.058,0.072],[-0.059,-0.07],[0.07,0.03],[-0.07,-0.028],[0.081,0.1],[-0.082,-0.094],[0.092,0.05],[-0.093,-0.047],[0.106,0.12],[-0.107,-0.115],[0.02,0.04],[-0.02,-0.04],[0.04,0.065],[-0.04,-0.065],[0.06,0.09],[-0.06,-0.09],[0.08,0.12],[-0.08,-0.118],[0.1,0.135],[-0.1,-0.13],[0.012,-0.025],[-0.012,0.022],[0.033,-0.008],[-0.032,0.006],[0.05,-0.015],[-0.05,0.012],[0.072,0.0],[-0.074,0.003],[0.09,0.015],[-0.089,-0.012],[0.115,0.04],[-0.118,-0.045],[0.125,0.075],[-0.127,-0.07],[0.13,0.11],[-0.13,-0.1],[0.028,0.058],[-0.027,-0.055],[0.052,0.1],[-0.05,-0.1],[0.075,0.135],[-0.073,-0.13],[0.098,0.155],[-0.097,-0.15],[0.003,0.03],[-0.003,-0.032],[0.009,0.055],[-0.01,-0.06],[0.017,0.08],[-0.018,-0.085],[0.03,0.1],[-0.03,-0.11],[0.045,0.115],[-0.045,-0.12],[0.065,0.125],[-0.065,-0.145],[0.085,0.145],[-0.085,-0.155],[0.108,0.165],[-0.11,-0.16],[0.12,0.15],[0.14,0.13],[0.15,0.1],[0.16,0.14],[0.17,0.12],[0.18,0.17],[0.155,0.06],[0.165,0.03],[0.185,0.08],[0.19,0.11],[0.2,0.15],
[0.003,-0.004],[-0.004,0.005],[0.01,0.003],[-0.011,-0.002],[0.016,0.015],[-0.015,-0.019],[0.022,0.026],[-0.022,-0.008],[0.028,0.016],[-0.028,-0.033],[0.035,0.035],[-0.033,-0.014],[0.04,0.026],[-0.04,-0.045],[0.047,0.056],[-0.047,-0.024],[0.053,0.04],[-0.054,-0.06],[0.06,0.068],[-0.061,-0.032],[0.066,0.05],[-0.066,-0.075],[0.073,0.082],[-0.071,-0.04],[0.078,0.065],[-0.079,-0.086],[0.085,0.09],[-0.086,-0.05],[0.094,0.075],[-0.094,-0.105],[0.007,0.022],[-0.008,-0.025],[0.018,0.035],[-0.019,-0.05],[0.025,-0.015],[-0.024,0.018],[0.042,0.008],[-0.043,0.0],[0.055,0.02],[-0.056,-0.005],
[0.002,0.011],[-0.002,-0.009],[0.008,0.016],[-0.009,-0.017],[0.014,0.004],[-0.013,-0.001],[0.019,0.027],[-0.02,-0.027],[0.023,0.003],[-0.024,-0.011],[0.029,0.037],[-0.028,-0.04],[0.032,0.009],[-0.033,-0.006],[0.038,0.048],[-0.038,-0.052],[0.044,0.02],[-0.044,-0.019],[0.051,0.061],[-0.052,-0.066],[0.056,0.03],[-0.057,-0.03],[0.063,0.077],[-0.062,-0.08],[0.069,0.036],[-0.068,-0.038],[0.006,0.037],[-0.006,-0.04],[0.016,0.05],[-0.017,-0.061],[0.027,0.063],[-0.028,-0.071],[0.011,-0.017],[-0.012,0.015],[0.03,-0.01],[-0.03,0.011],[0.046,0.072],[-0.047,-0.088],[0.058,0.008],[-0.058,-0.012],
[-0.198,-0.138],[-0.19,-0.176],[-0.183,-0.114],[-0.176,-0.162],[-0.169,-0.101],[-0.162,-0.152],[-0.156,-0.083],[-0.149,-0.137],[-0.143,-0.175],[-0.136,-0.112],[-0.13,-0.158],[-0.124,-0.094],[-0.118,-0.131],[-0.112,-0.061],[-0.106,-0.118],[-0.1,-0.088],[-0.094,-0.142],[-0.088,-0.073],[-0.082,-0.117],[-0.076,-0.034],[-0.07,-0.093],[-0.064,-0.064],[-0.058,-0.124],[-0.052,-0.042],[-0.046,-0.101],[-0.04,-0.028],[-0.034,-0.076],[-0.028,-0.118],[-0.022,-0.052],[-0.016,-0.094],[-0.01,-0.006],[-0.004,-0.063],[0.002,0.052],[0.008,-0.031],[0.014,0.093],[0.02,0.021],[0.026,0.072],[0.032,0.124],[0.038,0.038],[0.044,0.082],[0.05,0.112],[0.056,0.057],[0.062,0.101],[0.068,0.142],[0.074,0.073],[0.08,0.103],[0.086,0.051],[0.092,0.134],[0.098,0.106],[0.104,0.063],[0.11,0.15],[0.116,0.112],[0.122,0.087],[0.128,0.163],[0.134,0.128],[0.14,0.098],[0.146,0.114],[0.152,0.166],[0.158,0.121],[0.164,0.083],[0.17,0.141],[0.176,0.106],[0.182,0.152],[0.188,0.092],[0.194,0.135],[0.2,0.175],[0.206,0.112],[0.212,0.158],[0.218,0.124],[0.224,0.205],
[0.001,0.006],[-0.003,-0.004],[0.005,0.013],[-0.006,-0.011],[0.009,0.021],[-0.01,-0.021],[0.013,0.017],[-0.014,-0.024],[0.018,0.006],[-0.018,-0.004],[0.022,0.031],[-0.022,-0.035],[0.026,0.022],[-0.026,-0.017],[0.031,0.047],[-0.031,-0.047],[0.036,0.013],[-0.036,-0.026],[0.04,0.055],[-0.041,-0.058],[0.045,0.032],[-0.046,-0.035],[0.05,0.067],[-0.051,-0.05],[0.055,0.009],[-0.055,-0.084],[0.06,0.052],[-0.06,-0.017],[0.065,0.088],[-0.065,-0.061],
[0.004,0.008],[-0.004,-0.008],[0.012,0.019],[-0.012,-0.02],[0.02,0.014],[-0.02,-0.018],[0.027,0.033],[-0.027,-0.028],[0.034,0.026],[-0.034,-0.036],[0.041,0.044],[-0.041,-0.039],[0.048,0.04],[-0.048,-0.055],[0.01,-0.008],[-0.01,0.01],[0.018,-0.004],[-0.018,0.006],[0.036,0.058],[-0.036,-0.068]
];

const BLUE = '#2563eb', GREEN = '#059669', ORANGE = '#d97706';
const publicadosPts = publicadosOuter.concat(publicadosInner, publicadosCore);
const noPublicadosPts = noPublicadosOuter.concat(noPublicadosInner);

const traces = [
  {
    type: 'scatter', mode: 'markers', name: 'No publicados',
    x: noPublicadosPts.map(p => p[0]), y: noPublicadosPts.map(p => p[1]),
    marker: {color: BLUE, size: 8, opacity: 0.34, line: {width: 0}},
    hoverinfo: 'skip'
  },
  {
    type: 'scatter', mode: 'markers', name: 'Publicados',
    x: publicadosPts.map(p => p[0]), y: publicadosPts.map(p => p[1]),
    marker: {color: GREEN, size: 8, opacity: 0.34, line: {width: 0}},
    hoverinfo: 'skip'
  },
  {
    type: 'scatter', mode: 'lines', name: 'acierto perfecto',
    x: perfectLine, y: perfectLine,
    line: {color: 'rgba(217,119,6,0.8)', width: 2.6, dash: 'dash'},
    hoverinfo: 'skip'
  }
];

const FONT = 'DejaVu Sans, Liberation Sans, sans-serif';

const layout = {
  width: 1639, height: 866,
  paper_bgcolor: '#fafafa', plot_bgcolor: '#fafafa',
  showlegend: false,
  margin: {l: 114, r: 14, t: 97, b: 134},
  font: {family: FONT, color: '#333'},
  title: {
    text: '¿La IA adivina o solo repite lo que leyó?',
    font: {family: FONT, size: 29, color: '#111', weight: 'bold'},
    xref: 'paper', x: 0.5, xanchor: 'center',
    yref: 'container', y: 1 - 29/866, yanchor: 'middle'
  },
  xaxis: {
    range: [-0.65, 0.65], tickvals: tickValues, tickformat: '.1f',
    showgrid: false, zeroline: true, zerolinecolor: '#b5b5b5', zerolinewidth: 1,
    showline: true, linecolor: '#c8c8c8', linewidth: 1,
    ticks: 'outside', ticklen: 4, tickcolor: 'rgba(0,0,0,0)',
    tickfont: {size: 20, color: '#555'},
    title: {text: 'Efecto predicho por la IA', font: {size: 25, color: '#111'}, standoff: 22},
    automargin: false
  },
  yaxis: {
    range: [-0.65, 0.65], tickvals: tickValues, tickformat: '.1f',
    showgrid: true, gridcolor: '#ebebeb', gridwidth: 1,
    zeroline: true, zerolinecolor: '#c0c0c0', zerolinewidth: 1,
    showline: true, linecolor: '#c8c8c8', linewidth: 1,
    ticks: 'outside', ticklen: 4, tickcolor: 'rgba(0,0,0,0)',
    tickfont: {size: 20, color: '#555'},
    title: {text: 'Efecto real (gente de verdad)', font: {size: 25, color: '#111'}, standoff: 13},
    automargin: false
  },
  annotations: [
    {xref: 'paper', yref: 'paper', x: 0.5, y: (732-71)/635, xanchor: 'center', yanchor: 'middle',
     text: 'Efecto predicho por GPT-4 vs efecto real · 3.356 contrastes · r global = 0.81',
     showarrow: false, font: {family: FONT, size: 21, color: '#666'}},
    {xref: 'x', yref: 'y', x: -0.6, y: 0.457, xanchor: 'left', yanchor: 'middle', align: 'left',
     text: 'No publicados<br>r = 0.87', showarrow: false,
     font: {family: FONT, size: 21, color: BLUE, weight: 'bold'}},
    {xref: 'x', yref: 'y', x: -0.6, y: 0.236, xanchor: 'left', yanchor: 'middle', align: 'left',
     text: 'Publicados<br>r = 0.69', showarrow: false,
     font: {family: FONT, size: 21, color: GREEN, weight: 'bold'}},
    {xref: 'x', yref: 'y', x: 0.521, y: 0.601, xanchor: 'center', yanchor: 'middle',
     text: 'acierto perfecto', textangle: -45, showarrow: false,
     font: {family: FONT, size: 19, color: ORANGE, weight: 'bold'}},
    {xref: 'paper', yref: 'paper', x: (123-114)/1511, y: (732-842)/635, xanchor: 'left', yanchor: 'middle',
     text: 'Fuente: Hewitt et al. (2026), Nature | Datos: Code Ocean capsule 9843791',
     showarrow: false, font: {family: FONT, size: 15.5, color: '#999', style: 'italic'}}
  ]
};

Plotly.newPlot('chart', traces, layout, {staticPlot: true, displayModeBar: false});
</script>
</body>
</html>
